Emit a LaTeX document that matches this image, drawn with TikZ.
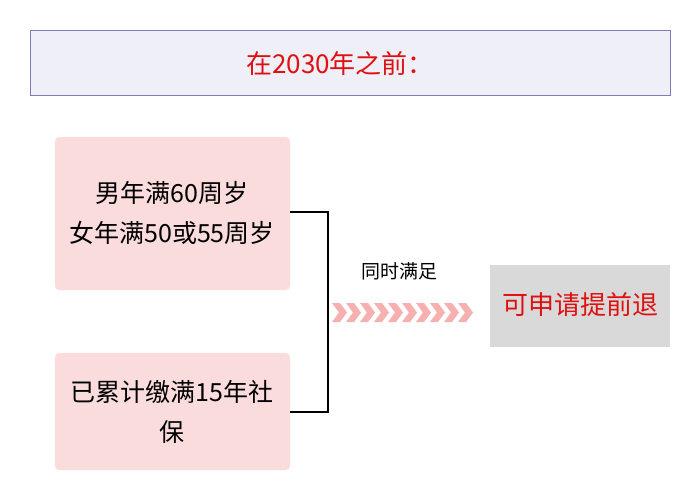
\documentclass[tikz,border=0pt]{standalone}
\usepackage{fontspec}
\newfontfamily\cjk{Noto Sans CJK SC}
\definecolor{pinkbox}{HTML}{FBDCDC}
\definecolor{hdrfill}{HTML}{EFEFF8}
\definecolor{hdrline}{HTML}{7A7FB8}
\definecolor{grayfill}{HTML}{D9D9D9}
\definecolor{redtxt}{HTML}{E01010}
\definecolor{chev}{HTML}{F7B0B0}
\begin{document}
\begin{tikzpicture}[x=1pt,y=-1pt,
  condbox/.style={fill=pinkbox,rounded corners=4pt,draw=none},
  txt/.style={font=\cjk\fontsize{25}{40}\selectfont,align=center,text=black}]
\useasboundingbox[fill=white] (0,0) rectangle (700,501);
\draw[hdrline,fill=hdrfill,line width=0.8pt] (30,30) rectangle (670,95);
\node (hdr) at (340,64) {\cjk\fontsize{26}{30}\selectfont\color{redtxt}在2030年之前：};
\fill[condbox] (55,137) rectangle (290,290);
\node[txt] (b1) at (172,213) {男年满60周岁\\女年满50或55周岁};
\fill[condbox] (55,353) rectangle (290,470);
\node[txt] (b2) at (172,412) {已累计缴满15年社\\保};
\coordinate (t) at (290,212);
\coordinate (b) at (290,412);
\draw[black,line width=1.3pt] (t) -- (328,212) -- (328,412) -- (b);
\node (lab) at (399,271) {\cjk\fontsize{19}{22}\selectfont 同时满足};
\foreach \i in {0,...,9}{
  \fill[chev] ({332+14*\i},303) -- ({340+14*\i},303) -- ({347+14*\i},312.5) -- ({340+14*\i},322) -- ({332+14*\i},322) -- ({339+14*\i},312.5) -- cycle;
}
\fill[grayfill] (490,265) rectangle (670,347);
\node (res) at (580,305) {\cjk\fontsize{26}{30}\selectfont\color{redtxt}可申请提前退};
\end{tikzpicture}
\end{document}
